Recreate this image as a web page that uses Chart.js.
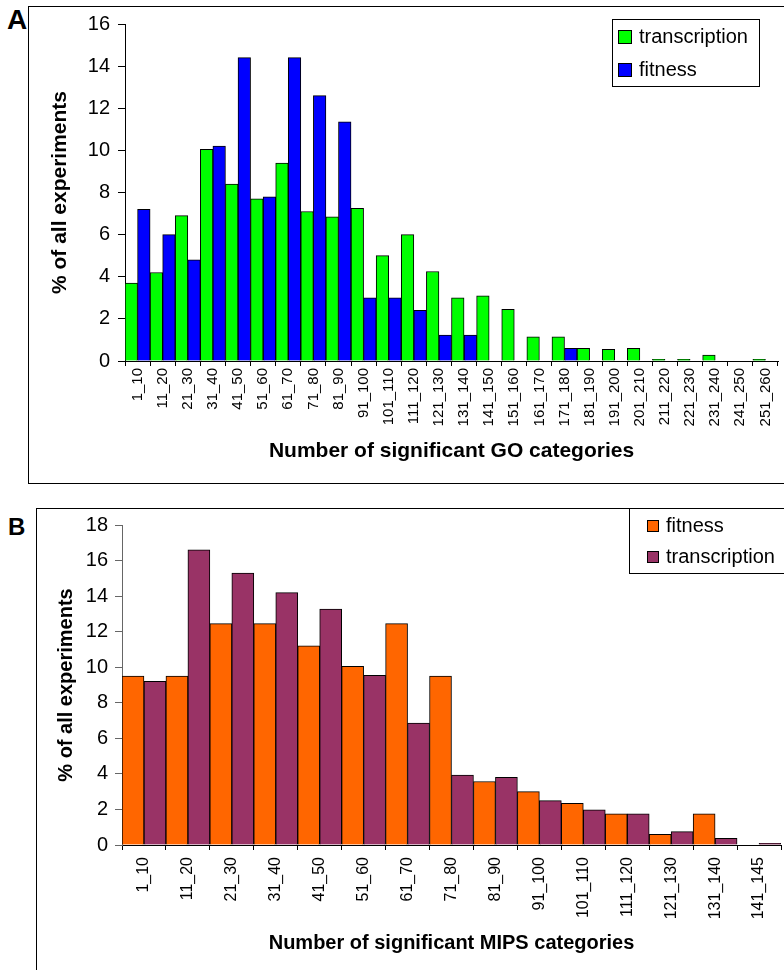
<!DOCTYPE html>
<html>
<head>
<meta charset="utf-8">
<script src="https://cdn.jsdelivr.net/npm/chart.js@4"></script>
<style>
	body { margin: 0; background: #fff; overflow: hidden; }
	#page { position: relative; width: 784px; height: 970px; overflow: hidden; background: #fff; }
	.frame { position: absolute; border: 1px solid #000; }
	.tag { position: absolute; font-family: "Liberation Sans", Arial, sans-serif; font-weight: bold; line-height: 1; color: #000; }
	canvas { position: absolute; left: 0; }
</style>
</head>
<body>
<div id="page">
	<div class="frame" style="left:28px;top:6px;width:800px;height:476px;"></div>
	<div class="frame" style="left:36px;top:508px;width:800px;height:500px;"></div>
	<div class="tag" style="left:7px;top:6px;font-size:28px;">A</div>
	<div class="tag" style="left:8px;top:515px;font-size:24px;">B</div>
	<canvas id="goChart" width="800" height="484" style="top:0px"></canvas>
	<canvas id="mipsChart" width="800" height="480" style="top:490px"></canvas>
</div>
<script>
// panel A - GO categories
var goLabels = ['1_10', '11_20', '21_30', '31_40', '41_50', '51_60', '61_70', '71_80', '81_90', '91_100',
	'101_110', '111_120', '121_130', '131_140', '141_150', '151_160', '161_170', '171_180', '181_190',
	'191_200', '201_210', '211_220', '221_230', '231_240', '241_250', '251_260'];
var goTranscription = [3.7, 4.2, 6.9, 10.05, 8.4, 7.7, 9.4, 7.1, 6.85, 7.25, 5.0, 6.0, 4.25, 3.0, 3.1, 2.45,
	1.15, 1.15, 0.6, 0.55, 0.6, 0.08, 0.08, 0.28, null, 0.08];
var goFitness = [7.2, 6.0, 4.8, 10.2, 14.4, 7.8, 14.4, 12.6, 11.35, 3.0, 3.0, 2.4, 1.23, 1.23, null, null,
	null, 0.6, null, null, null, null, null, null, null, null];

// panel B - MIPS categories
var mipsLabels = ['1_10', '11_20', '21_30', '31_40', '41_50', '51_60', '61_70', '71_80', '81_90', '91_100',
	'101_110', '111_120', '121_130', '131_140', '141_145'];
var mipsFitness = [9.5, 9.5, 12.45, 12.45, 11.2, 10.05, 12.45, 9.5, 3.57, 3.0, 2.34, 1.76, 0.6, 1.76, null];
var mipsTranscription = [9.2, 16.6, 15.3, 14.2, 13.27, 9.55, 6.86, 3.94, 3.81, 2.5, 1.98, 1.76, 0.75, 0.38, 0.1];

var FONT = '"Liberation Sans", Arial, sans-serif';
Chart.defaults.font.family = FONT;
Chart.defaults.color = '#000';

// legend with a frame round it, like the old spreadsheet charts
var boxLegend = {
	id: 'boxLegend',
	afterDraw: function (chart, args, o) {
		var ctx = chart.ctx;
		ctx.save();
		ctx.lineWidth = 1;
		ctx.fillStyle = '#fff';
		ctx.fillRect(o.x, o.y, o.w, o.h);
		ctx.strokeStyle = '#000';
		ctx.strokeRect(o.x + 0.5, o.y + 0.5, o.w, o.h);
		ctx.font = o.fontSize + 'px ' + FONT;
		ctx.textBaseline = 'middle';
		chart.data.datasets.forEach(function (ds, i) {
			var cy = Math.round(o.y + o.row0 + i * o.rowGap);
			ctx.fillStyle = ds.backgroundColor;
			ctx.fillRect(o.x + o.sqX, cy - o.sq / 2, o.sq, o.sq);
			ctx.strokeRect(o.x + o.sqX + 0.5, cy - o.sq / 2 + 0.5, o.sq - 1, o.sq - 1);
			ctx.fillStyle = '#000';
			ctx.fillText(ds.label, o.x + o.textX, cy);
		});
		ctx.restore();
	}
};

function histogram(id, o) {
	return new Chart(document.getElementById(id), {
		type: 'bar',
		data: {
			labels: o.labels,
			datasets: o.series.map(function (s) {
				return { label: s.label, data: s.data, backgroundColor: s.color };
			})
		},
		plugins: [boxLegend],
		options: {
			responsive: false,
			animation: false,
			layout: { padding: o.padding },
			datasets: {
				bar: { categoryPercentage: 1, barPercentage: 1, borderWidth: 1, borderColor: '#000' }
			},
			plugins: {
				legend: { display: false },
				tooltip: { enabled: false },
				boxLegend: o.legend
			},
			scales: {
				x: {
					afterFit: function (s) { s.height = o.xHeight; },
					grid: { drawOnChartArea: false, tickLength: 5, tickColor: '#000' },
					border: { color: '#000', width: 1 },
					ticks: { autoSkip: false, minRotation: 90, maxRotation: 90, padding: o.xPad, font: { size: o.xFont } },
					title: { display: true, text: o.xTitle, font: { size: o.xTitleSize, weight: 'bold' }, padding: { top: 4, bottom: 4 } }
				},
				y: {
					min: 0,
					max: o.yMax,
					afterFit: function (s) { s.width = o.yWidth; },
					grid: { drawOnChartArea: false, tickLength: 7, tickColor: o.yColor },
					border: { color: o.yColor, width: 1 },
					ticks: { stepSize: 2, padding: o.yPad, font: { size: 20 } },
					title: { display: true, text: '% of all experiments', font: { size: o.yTitleSize, weight: 'bold' }, padding: { top: 4, bottom: 4 } }
				}
			}
		}
	});
}

histogram('goChart', {
	labels: goLabels,
	series: [
		{ label: 'transcription', data: goTranscription, color: '#00ff00' },
		{ label: 'fitness', data: goFitness, color: '#0000ff' }
	],
	padding: { left: 44, top: 24, right: 22, bottom: 16 },
	yWidth: 81, xHeight: 107,
	yMax: 16, yColor: '#000', yPad: 8,
	xFont: 15, xPad: 2,
	xTitle: 'Number of significant GO categories', xTitleSize: 21, yTitleSize: 21,
	legend: { x: 612, y: 19, w: 147, h: 67, row0: 18, rowGap: 33, sq: 14, sqX: 6, textX: 27, fontSize: 20 }
});

histogram('mipsChart', {
	labels: mipsLabels,
	series: [
		{ label: 'fitness', data: mipsFitness, color: '#ff6600' },
		{ label: 'transcription', data: mipsTranscription, color: '#993366' }
	],
	padding: { left: 50, top: 35, right: 19, bottom: 11 },
	yWidth: 72, xHeight: 114,
	yMax: 18, yColor: '#666', yPad: 7,
	xFont: 16, xPad: 7,
	xTitle: 'Number of significant MIPS categories', xTitleSize: 20, yTitleSize: 20,
	legend: { x: 629, y: 18, w: 200, h: 65, row0: 18, rowGap: 31, sq: 12, sqX: 18, textX: 37, fontSize: 20 }
});
</script>
</body>
</html>
